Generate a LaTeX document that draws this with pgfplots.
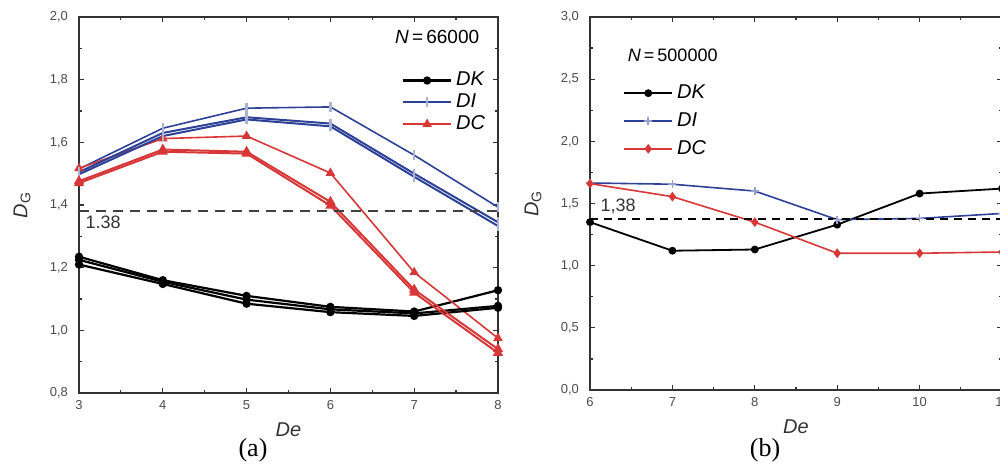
\documentclass[border=0pt]{standalone}
\usepackage{fontspec}
\setmainfont{Liberation Sans}
\newfontfamily\seriffont{Liberation Serif}
\usepackage{pgfplots}
\pgfplotsset{compat=1.18}

\definecolor{diblue}{RGB}{45,65,150}
\definecolor{dcred}{RGB}{215,55,55}

\pgfplotsset{
  panel/.style={
    scale only axis,
    anchor=south west,
    axis line style={black!80, line width=0.8pt},
    tick align=inside,
    major tick length=2.5pt, minor tick length=1.5pt,
    every tick/.style={black!80, line width=0.6pt},
    minor x tick num=1, minor y tick num=1,
    tick label style={font=\fontsize{6.5}{7}\selectfont, text=black!70},
    /pgf/number format/assume math mode=true,
    yticklabel style={xshift=-2pt, /pgf/number format/.cd, fixed, fixed zerofill, precision=1, use comma},
    xlabel={\textit{De}},
    ylabel={\textit{D}\textsubscript{G}},
    label style={font=\fontsize{10}{12}\selectfont, text=black!80},
    xlabel style={at={(axis description cs:0.5,0)}, anchor=center, yshift=-18.5pt},
    ylabel style={at={(axis description cs:0,0.5)}, anchor=center, yshift=28.5pt},
    legend style={draw=none, fill=none, inner sep=0pt, font=\fontsize{10}{12}\selectfont\itshape, row sep=-1.5pt},
    legend cell align=left,
    legend image code/.code={\draw[mark repeat=2, mark phase=2, #1] plot coordinates {(0pt,0pt)(12pt,0pt)(24pt,0pt)};},
  }
}

\begin{document}
\begin{tikzpicture}
% (a) N = 66000
\begin{axis}[panel, at={(39.5pt,36.5pt)}, width=209.5pt, height=188pt,
  xmin=3, xmax=8, ymin=0.8, ymax=2.0,
  xtick={3,4,5,6,7,8}, ytick={0.8,1.0,1.2,1.4,1.6,1.8,2.0},
  legend style={at={(rel axis cs:0.77,0.865)}, anchor=north west}]
  \addplot[black, line width=1.1pt, mark=*, mark size=1.5pt] coordinates {
    (3,1.235)(4,1.160)(5,1.110)(6,1.075)(7,1.060)(8,1.128)};
  \addlegendentry{DK}
  \addplot[diblue, line width=0.8pt, mark=|, mark size=2.5pt, mark options={draw=white!60!diblue, line width=1.2pt}] coordinates {
    (3,1.515)(4,1.645)(5,1.709)(6,1.713)(7,1.559)(8,1.393)};
  \addlegendentry{DI}
  \addplot[dcred, line width=0.8pt, mark=triangle*, mark size=2pt] coordinates {
    (3,1.517)(4,1.612)(5,1.620)(6,1.502)(7,1.185)(8,0.975)};
  \addlegendentry{DC}
  % repeated runs
  \addplot[forget plot, black, line width=1.1pt, mark=*, mark size=1.5pt] coordinates {
    (3,1.225)(4,1.155)(5,1.098)(6,1.067)(7,1.054)(8,1.078)};
  \addplot[forget plot, black, line width=1.1pt, mark=*, mark size=1.5pt] coordinates {
    (3,1.210)(4,1.148)(5,1.085)(6,1.058)(7,1.046)(8,1.072)};
  \addplot[forget plot, diblue, line width=1pt, mark=|, mark size=2.5pt, mark options={draw=white!60!diblue, line width=1.2pt}] coordinates {
    (3,1.505)(4,1.630)(5,1.680)(6,1.660)(7,1.500)(8,1.345)};
  \addplot[forget plot, diblue, line width=1pt, mark=|, mark size=2.5pt, mark options={draw=white!60!diblue, line width=1.2pt}] coordinates {
    (3,1.498)(4,1.620)(5,1.673)(6,1.651)(7,1.490)(8,1.333)};
  \addplot[forget plot, dcred, line width=1pt, mark=triangle*, mark size=2pt] coordinates {
    (3,1.476)(4,1.577)(5,1.570)(6,1.410)(7,1.130)(8,0.940)};
  \addplot[forget plot, dcred, line width=1pt, mark=triangle*, mark size=2pt] coordinates {
    (3,1.470)(4,1.570)(5,1.564)(6,1.398)(7,1.120)(8,0.928)};
  \addplot[forget plot, black!75, line width=1.2pt, dash pattern=on 5pt off 3.5pt] coordinates {(3,1.38)(8,1.38)};
  \node[anchor=north west, inner sep=1pt, font=\fontsize{9}{10}\selectfont, text=black!80] at (axis cs:3.05,1.372) {1.38};
  \node[anchor=east, font=\fontsize{9.5}{11}\selectfont] at (rel axis cs:0.972,0.947) {\textit{N}\,=\,66000};
\end{axis}

% (b) N = 500000
\begin{axis}[panel, at={(295pt,38pt)}, width=206pt, height=186.5pt,
  xmin=6, xmax=11, ymin=0, ymax=3.0,
  xtick={6,7,8,9,10,11}, ytick={0,0.5,1.0,1.5,2.0,2.5,3.0},
  legend style={at={(rel axis cs:0.08,0.83)}, anchor=north west, row sep=1.5pt}]
  \addplot[black, line width=0.9pt, mark=*, mark size=1.5pt] coordinates {
    (6,1.35)(7,1.12)(8,1.13)(9,1.33)(10,1.58)(11,1.62)};
  \addlegendentry{DK}
  \addplot[diblue, line width=0.8pt, mark=+, mark size=2pt, mark options={draw=white!50!diblue}] coordinates {
    (6,1.665)(7,1.655)(8,1.60)(9,1.37)(10,1.38)(11,1.42)};
  \addlegendentry{DI}
  \addplot[dcred, line width=0.8pt, mark=diamond*, mark size=1.8pt] coordinates {
    (6,1.66)(7,1.555)(8,1.35)(9,1.10)(10,1.10)(11,1.11)};
  \addlegendentry{DC}
  \addplot[forget plot, black, line width=1pt, dash pattern=on 4pt off 3pt] coordinates {(6,1.375)(11,1.375)};
  \node[anchor=south west, inner sep=1pt, font=\fontsize{9}{10}\selectfont, text=black!80] at (axis cs:6.1,1.40) {1,38};
  \node[anchor=west, font=\fontsize{9}{11}\selectfont] at (rel axis cs:0.075,0.898) {\textit{N}\,=\,500000};
\end{axis}

\node[font=\seriffont\fontsize{13}{14}\selectfont] at (126.5pt,8pt) {(a)};
\node[font=\seriffont\fontsize{13}{14}\selectfont] at (382.5pt,8pt) {(b)};

\pgfresetboundingbox
\useasboundingbox (0,0) rectangle (500pt,233pt);
\end{tikzpicture}
\end{document}
